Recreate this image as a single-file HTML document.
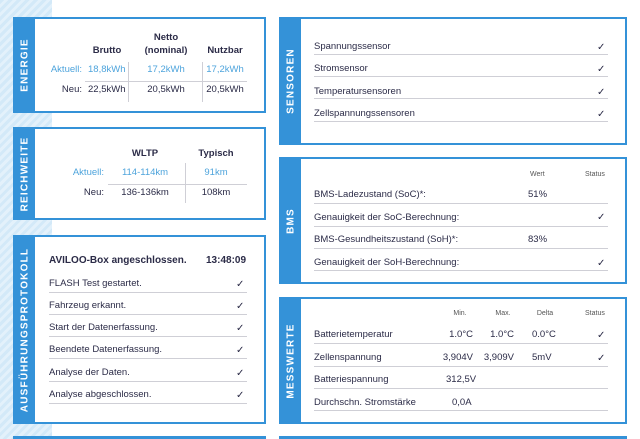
<!DOCTYPE html>
<html><head><meta charset="utf-8"><style>
*{margin:0;padding:0;box-sizing:border-box}
body{width:640px;height:439px;position:relative;overflow:hidden;background:#fff;font-family:"Liberation Sans",sans-serif;color:#2b2b47;font-size:9.5px}
.bg{position:absolute;left:0;top:0;width:52px;height:439px;background:repeating-linear-gradient(135deg,#d3e9f8 0 3px,#e3f1fb 3px 6px)}
.box{position:absolute;border:2px solid #3492d8;background:#fff}
.tab{position:absolute;left:0;top:0;bottom:0;width:20px;background:#3492d8}
.tab span{position:absolute;left:50%;top:50%;transform:translate(-50%,-50%) rotate(-90deg);color:#fff;font-weight:bold;font-size:10px;letter-spacing:1.2px;white-space:nowrap}
.t{position:absolute;white-space:nowrap}
.r{text-align:right}
.c{text-align:center}
.b{font-weight:bold}
.bl{color:#4ea4dc}
.hl{position:absolute;height:1px;background:#cfcfd6}
.vl{position:absolute;width:1px;background:#cfcfd6}
.ck{position:absolute;font-size:10px;color:#2b2b47}
.sm{font-size:7px;color:#555}
</style></head><body>
<div class="bg"></div>

<!-- ENERGIE -->
<div class="box" style="left:13px;top:17px;width:253px;height:96px"><div class="tab"><span>ENERGIE</span></div></div>
<div class="t b c" style="left:146px;top:32px;width:40px">Netto</div>
<div class="t b c" style="left:86px;top:45px;width:42px">Brutto</div>
<div class="t b c" style="left:136px;top:45px;width:60px">(nominal)</div>
<div class="t b c" style="left:202px;top:45px;width:46px">Nutzbar</div>
<div class="t bl r" style="left:30px;top:64px;width:52px">Aktuell:</div>
<div class="t bl" style="left:88px;top:64px">18,8kWh</div>
<div class="t bl c" style="left:136px;top:64px;width:60px">17,2kWh</div>
<div class="t bl c" style="left:202px;top:64px;width:46px">17,2kWh</div>
<div class="t r" style="left:30px;top:84px;width:52px">Neu:</div>
<div class="t" style="left:88px;top:84px">22,5kWh</div>
<div class="t c" style="left:136px;top:84px;width:60px">20,5kWh</div>
<div class="t c" style="left:202px;top:84px;width:46px">20,5kWh</div>
<div class="hl" style="left:85px;top:81px;width:162px"></div>
<div class="vl" style="left:128px;top:62px;height:40px"></div>
<div class="vl" style="left:202px;top:62px;height:40px"></div>

<!-- REICHWEITE -->
<div class="box" style="left:13px;top:127px;width:253px;height:93px"><div class="tab"><span>REICHWEITE</span></div></div>
<div class="t b c" style="left:120px;top:148px;width:50px">WLTP</div>
<div class="t b c" style="left:190px;top:148px;width:52px">Typisch</div>
<div class="t bl r" style="left:50px;top:167px;width:54px">Aktuell:</div>
<div class="t bl c" style="left:110px;top:167px;width:70px">114-114km</div>
<div class="t bl c" style="left:190px;top:167px;width:52px">91km</div>
<div class="t r" style="left:50px;top:187px;width:54px">Neu:</div>
<div class="t c" style="left:110px;top:187px;width:70px">136-136km</div>
<div class="t c" style="left:190px;top:187px;width:52px">108km</div>
<div class="hl" style="left:108px;top:184px;width:139px"></div>
<div class="vl" style="left:185px;top:163px;height:40px"></div>

<!-- PROTOKOLL -->
<div class="box" style="left:13px;top:235px;width:253px;height:189px"><div class="tab"><span>AUSFÜHRUNGSPROTOKOLL</span></div></div>
<div class="t b" style="left:49px;top:255px;font-size:10px">AVILOO-Box angeschlossen.</div>
<div class="t b" style="left:206px;top:255px;font-size:10px">13:48:09</div>
<div class="t" style="left:49px;top:278px">FLASH Test gestartet.</div>
<div class="t" style="left:49px;top:300px">Fahrzeug erkannt.</div>
<div class="t" style="left:49px;top:322px">Start der Datenerfassung.</div>
<div class="t" style="left:49px;top:344px">Beendete Datenerfassung.</div>
<div class="t" style="left:49px;top:367px">Analyse der Daten.</div>
<div class="t" style="left:49px;top:389px">Analyse abgeschlossen.</div>
<div class="ck" style="left:236px;top:279px">✓</div>
<div class="ck" style="left:236px;top:301px">✓</div>
<div class="ck" style="left:236px;top:323px">✓</div>
<div class="ck" style="left:236px;top:345px">✓</div>
<div class="ck" style="left:236px;top:368px">✓</div>
<div class="ck" style="left:236px;top:390px">✓</div>
<div class="hl" style="left:49px;top:292px;width:198px"></div>
<div class="hl" style="left:49px;top:314px;width:198px"></div>
<div class="hl" style="left:49px;top:336px;width:198px"></div>
<div class="hl" style="left:49px;top:358px;width:198px"></div>
<div class="hl" style="left:49px;top:381px;width:198px"></div>
<div class="hl" style="left:49px;top:403px;width:198px"></div>
<div style="position:absolute;left:13px;top:436px;width:253px;height:3px;background:#3492d8"></div>

<!-- SENSOREN -->
<div class="box" style="left:279px;top:17px;width:348px;height:128px"><div class="tab"><span>SENSOREN</span></div></div>
<div class="t" style="left:314px;top:41px">Spannungssensor</div>
<div class="t" style="left:314px;top:63px">Stromsensor</div>
<div class="t" style="left:314px;top:86px">Temperatursensoren</div>
<div class="t" style="left:314px;top:108px">Zellspannungssensoren</div>
<div class="ck" style="left:597px;top:42px">✓</div>
<div class="ck" style="left:597px;top:64px">✓</div>
<div class="ck" style="left:597px;top:87px">✓</div>
<div class="ck" style="left:597px;top:109px">✓</div>
<div class="hl" style="left:314px;top:54px;width:294px"></div>
<div class="hl" style="left:314px;top:76px;width:294px"></div>
<div class="hl" style="left:314px;top:98px;width:294px"></div>
<div class="hl" style="left:314px;top:121px;width:294px"></div>

<!-- BMS -->
<div class="box" style="left:279px;top:157px;width:348px;height:127px"><div class="tab"><span>BMS</span></div></div>
<div class="t sm" style="left:530px;top:171px">Wert</div>
<div class="t sm" style="left:585px;top:171px">Status</div>
<div class="t" style="left:314px;top:189px">BMS-Ladezustand (SoC)*:</div>
<div class="t" style="left:314px;top:212px">Genauigkeit der SoC-Berechnung:</div>
<div class="t" style="left:314px;top:234px">BMS-Gesundheitszustand (SoH)*:</div>
<div class="t" style="left:314px;top:257px">Genauigkeit der SoH-Berechnung:</div>
<div class="t" style="left:528px;top:189px">51%</div>
<div class="t" style="left:528px;top:234px">83%</div>
<div class="ck" style="left:597px;top:212px">✓</div>
<div class="ck" style="left:597px;top:258px">✓</div>
<div class="hl" style="left:314px;top:203px;width:294px"></div>
<div class="hl" style="left:314px;top:226px;width:294px"></div>
<div class="hl" style="left:314px;top:248px;width:294px"></div>
<div class="hl" style="left:314px;top:270px;width:294px"></div>

<!-- MESSWERTE -->
<div class="box" style="left:279px;top:297px;width:348px;height:127px"><div class="tab"><span>MESSWERTE</span></div></div>
<div class="t sm c" style="left:445px;top:310px;width:30px">Min.</div>
<div class="t sm c" style="left:488px;top:310px;width:30px">Max.</div>
<div class="t sm c" style="left:530px;top:310px;width:30px">Delta</div>
<div class="t sm" style="left:585px;top:310px">Status</div>
<div class="t" style="left:314px;top:329px">Batterietemperatur</div>
<div class="t" style="left:314px;top:352px">Zellenspannung</div>
<div class="t" style="left:314px;top:374px">Batteriespannung</div>
<div class="t" style="left:314px;top:397px">Durchschn. Stromstärke</div>
<div class="t r" style="left:430px;top:329px;width:43px">1.0°C</div>
<div class="t r" style="left:470px;top:329px;width:44px">1.0°C</div>
<div class="t" style="left:532px;top:329px">0.0°C</div>
<div class="t r" style="left:430px;top:352px;width:43px">3,904V</div>
<div class="t r" style="left:470px;top:352px;width:44px">3,909V</div>
<div class="t" style="left:532px;top:352px">5mV</div>
<div class="t" style="left:446px;top:374px">312,5V</div>
<div class="t" style="left:452px;top:397px">0,0A</div>
<div class="ck" style="left:597px;top:330px">✓</div>
<div class="ck" style="left:597px;top:353px">✓</div>
<div class="hl" style="left:314px;top:343px;width:294px"></div>
<div class="hl" style="left:314px;top:366px;width:294px"></div>
<div class="hl" style="left:314px;top:388px;width:294px"></div>
<div class="hl" style="left:314px;top:410px;width:294px"></div>
<div style="position:absolute;left:279px;top:436px;width:348px;height:3px;background:#3492d8"></div>
</body></html>
